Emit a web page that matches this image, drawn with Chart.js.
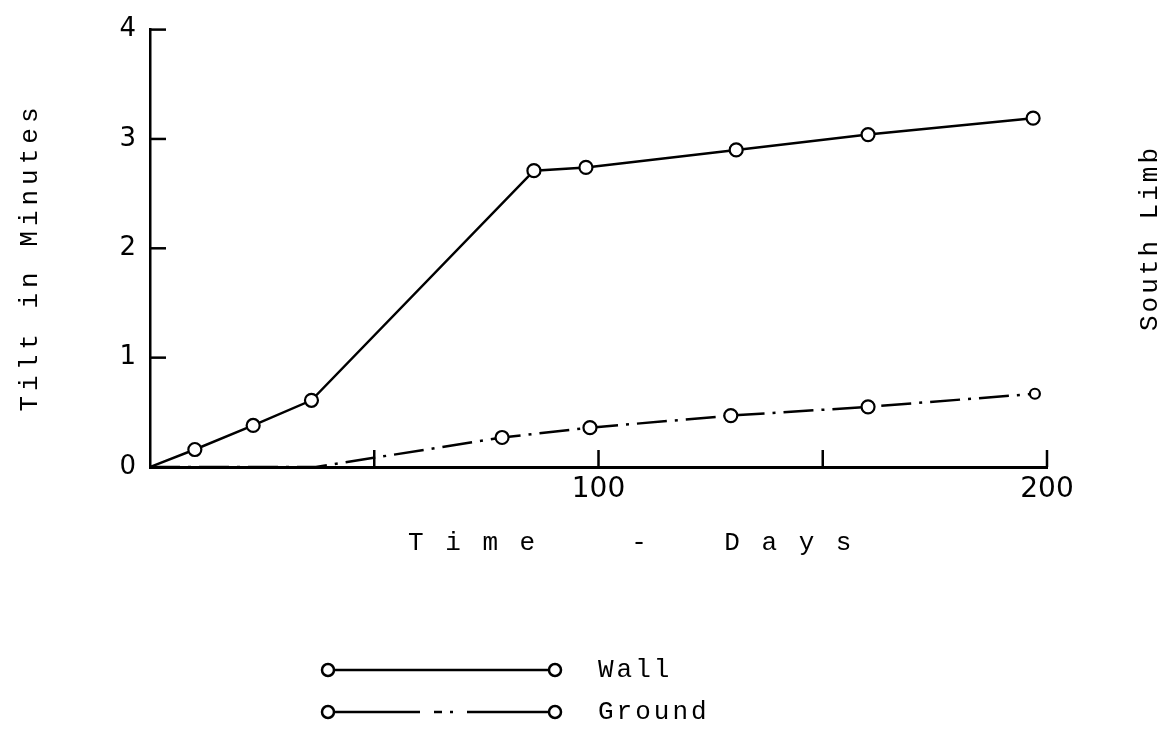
<!DOCTYPE html>
<html>
<head>
<meta charset="utf-8">
<title>Tilt in Minutes - South Limb</title>
<script src="https://cdn.jsdelivr.net/npm/chart.js@4/dist/chart.umd.min.js"></script>
<style>
  html, body { margin: 0; padding: 0; background: #fff; }
  canvas { display: block; }
</style>
</head>
<body>
<canvas id="tiltChart" width="1170" height="749"></canvas>
<script>
// values (days, minutes of tilt)
const wallDays   = [0, 10, 23, 36, 85.6, 97.2, 130.7, 160.1, 196.9];
const wallTilt   = [0, 0.16, 0.38, 0.61, 2.71, 2.74, 2.90, 3.04, 3.19];
const groundDays = [0, 37, 78.5, 98.1, 129.5, 160.1, 197.3];
const groundTilt = [0, 0, 0.27, 0.36, 0.47, 0.55, 0.67];

const xTickLabels = [100, 200];
const xTickMarks  = [50, 100, 150, 200];
const yTickMarks  = [1, 2, 3, 4];

const typeFont = '"Liberation Mono", "DejaVu Sans Mono", monospace';
const groundDash = [30, 8, 3, 8];

function toPoints(xs, ys) {
  return xs.map((v, i) => ({ x: v, y: ys[i] }));
}

// draws the things Chart.js can't: inward ticks, spaced titles, the legend
const paperPlugin = {
  id: 'paper',
  afterDraw(chart) {
    const ctx = chart.ctx;
    const area = chart.chartArea;
    const xs = chart.scales.x, ys = chart.scales.y;
    ctx.save();
    ctx.strokeStyle = '#000';
    ctx.fillStyle = '#000';
    ctx.lineWidth = 2.5;

    // tick marks pointing into the plot
    xTickMarks.forEach(v => {
      const px = xs.getPixelForValue(v);
      ctx.beginPath();
      ctx.moveTo(px, area.bottom);
      ctx.lineTo(px, area.bottom - 17);
      ctx.stroke();
    });
    yTickMarks.forEach(v => {
      const py = ys.getPixelForValue(v);
      ctx.beginPath();
      ctx.moveTo(area.left, py);
      ctx.lineTo(area.left + 16, py);
      ctx.stroke();
    });

    // axis titles
    ctx.font = '26px ' + typeFont;
    const spacing = 'letterSpacing' in ctx;
    if (spacing) ctx.letterSpacing = '3px';
    ctx.textBaseline = 'middle';
    ctx.textAlign = 'left';
    ctx.fillText('T i m e     -    D a y s', 408, 543);

    ctx.textAlign = 'center';
    ctx.save();
    if (spacing) ctx.letterSpacing = '5px';
    ctx.translate(30, 257);
    ctx.rotate(-Math.PI / 2);
    ctx.fillText('Tilt in Minutes', 0, 0);
    ctx.restore();

    ctx.save();
    ctx.translate(1150, 238);
    ctx.rotate(-Math.PI / 2);
    ctx.fillText('South Limb', 0, 0);
    ctx.restore();

    // legend
    const rows = [
      { label: 'Wall', y: 670, dash: [] },
      { label: 'Ground', y: 712, dash: [92, 14, 8, 8, 3, 14] }
    ];
    rows.forEach(r => {
      ctx.lineWidth = 2.5;
      ctx.setLineDash(r.dash);
      ctx.beginPath();
      ctx.moveTo(328, r.y);
      ctx.lineTo(553, r.y);
      ctx.stroke();
      ctx.setLineDash([]);
      [328, 555].forEach(cx => {
        ctx.beginPath();
        ctx.arc(cx, r.y, 6, 0, Math.PI * 2);
        ctx.fillStyle = '#fff';
        ctx.fill();
        ctx.stroke();
      });
      ctx.fillStyle = '#000';
      ctx.textAlign = 'left';
      ctx.fillText(r.label, 598, r.y);
    });

    ctx.restore();
  }
};

const ctx = document.getElementById('tiltChart').getContext('2d');
new Chart(ctx, {
  type: 'line',
  data: {
    datasets: [
      {
        label: 'Wall',
        data: toPoints(wallDays, wallTilt),
        borderColor: '#000',
        borderWidth: 2.5,
        pointRadius: wallDays.map(d => d === 0 ? 0 : 6.5),
        pointBackgroundColor: '#fff',
        pointBorderColor: '#000',
        pointBorderWidth: 2.2,
        tension: 0
      },
      {
        label: 'Ground',
        data: toPoints(groundDays, groundTilt),
        borderColor: '#000',
        borderWidth: 2.5,
        borderDash: groundDash,
        pointRadius: groundTilt.map((t, i) => t === 0 ? 0 : (i === groundTilt.length - 1 ? 5 : 6.5)),
        pointBackgroundColor: '#fff',
        pointBorderColor: '#000',
        pointBorderWidth: 2.2,
        tension: 0
      }
    ]
  },
  options: {
    responsive: false,
    animation: false,
    layout: { padding: { top: 28, right: 123, left: 0, bottom: 0 } },
    plugins: {
      legend: { display: false },
      tooltip: { enabled: false }
    },
    scales: {
      x: {
        type: 'linear',
        min: 0,
        max: 200,
        afterFit: scale => { scale.height = 282; },
        grid: { display: false, drawTicks: false },
        border: { display: true, color: '#000', width: 3 },
        ticks: {
          stepSize: 50,
          padding: 6,
          color: '#000',
          font: { family: '"DejaVu Sans", sans-serif', size: 28 },
          callback: v => xTickLabels.includes(v) ? String(v) : ''
        }
      },
      y: {
        min: 0,
        max: 4,
        afterFit: scale => { scale.width = 150; },
        grid: { display: false, drawTicks: false },
        border: { display: true, color: '#000', width: 2.5 },
        ticks: {
          stepSize: 1,
          padding: 14,
          color: '#000',
          font: { family: '"DejaVu Sans", sans-serif', size: 26 }
        }
      }
    }
  },
  plugins: [paperPlugin]
});
</script>
</body>
</html>
